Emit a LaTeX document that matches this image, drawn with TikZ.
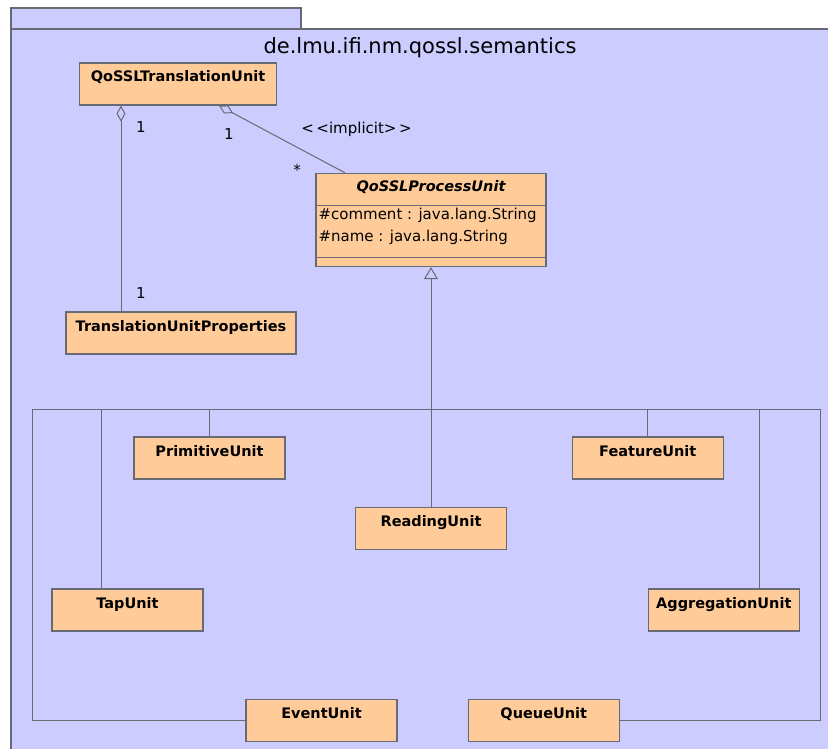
\documentclass[tikz,border=0pt]{standalone}
\usepackage{fontspec}
\setmainfont{DejaVu Sans}
\usetikzlibrary{positioning,arrows.meta}
\definecolor{pkgfill}{RGB}{204,204,255}
\definecolor{clsfill}{RGB}{255,204,153}
\definecolor{lngray}{RGB}{105,105,118}

\begin{document}
\begin{tikzpicture}[
  x=1pt, y=-1pt,
  font=\fontsize{15}{18}\selectfont,
  cls/.style={draw=lngray, line width=1.3pt, fill=clsfill, inner sep=0pt, minimum width=151pt,
    text height=19pt, text depth=23pt, font=\fontsize{14.5}{17}\selectfont\bfseries},
  pkg/.style={draw=lngray, line width=1.3pt, fill=pkgfill},
  aggr/.style={draw=lngray, line width=1pt, {Diamond[open,length=16pt,width=9pt]}-},
  gen/.style={draw=lngray, line width=1pt, {Triangle[open,length=12pt,width=14pt]}-},
  tree/.style={draw=lngray, line width=1pt},
  mult/.style={inner sep=0pt}
]
\clip (0,0) rectangle (828,749);
\fill[white] (0,0) rectangle (828,749);

% package
\draw[pkg] (11,8) rectangle (301,29);
\draw[pkg] (11,29) rectangle (840,760);
\node[mult] (pkgname) at (420,48) {\fontsize{21}{24}\selectfont de.lmu.ifi.nm.qossl.semantics};

% classes
\node[cls, minimum width=197pt] (trans) at (178,84) {QoSSLTranslationUnit};
\node[cls, minimum width=230pt] (props) at (181,333) {TranslationUnitProperties};
\node[cls, minimum width=230pt, text height=18pt, text depth=75pt,
  font=\fontsize{14.5}{17}\selectfont\bfseries\itshape] (proc) at (431,220) {QoSSLProcessUnit};
\draw[tree] ([yshift=-32.5pt]proc.north west) -- ([yshift=-32.5pt]proc.north east);
\draw[tree] ([yshift=9.5pt]proc.south west) -- ([yshift=9.5pt]proc.south east);
\node[anchor=north west, align=left, inner sep=0pt, font=\fontsize{15}{22}\selectfont] (attrs)
  at ([xshift=3pt,yshift=-35.5pt]proc.north west) {\#comment : java.lang.String\\\#name : java.lang.String};

\node[cls] (prim) at (209.5,458) {PrimitiveUnit};
\node[cls, right=286pt of prim] (feature) {FeatureUnit};
\node[cls, below=239.5pt of proc] (reading) {ReadingUnit};
\node[cls] (tap) at (127.5,610) {TapUnit};
\node[cls, right=444pt of tap] (aggrunit) {AggregationUnit};
\node[cls] (event) at (321.5,720.5) {EventUnit};
\node[cls, right=70pt of event] (queue) {QueueUnit};

% associations
\draw[aggr] ([xshift=-57pt]trans.south) -- ([xshift=-57pt]trans.south |- props.north);
\draw[aggr] ([xshift=41pt]trans.south) -- ([xshift=-86pt]proc.north);
\node[mult] (m1) at (141,127.5) {1};
\node[mult] (m2) at (141,293) {1};
\node[mult] (m3) at (229,134) {1};
\node[mult] (m4) at (297,170) {*};
\node[mult] (impl) at (356.5,129) {{<}\,{<}implicit{>}\,{>}};

% generalization
\coordinate (busL) at (32,409);
\coordinate (busR) at (820,409);
\draw[gen] (proc.south) -- (proc.south |- busL);
\draw[tree] (busL) -- (busR);
\draw[tree] (busL) |- (event.west);
\draw[tree] (busR) |- (queue.east);
\draw[tree] ([xshift=-26.5pt]tap.north) -- ([xshift=-26.5pt]tap.north |- busL);
\draw[tree] (prim.north) -- (prim.north |- busL);
\draw[tree] (reading.north) -- (reading.north |- busL);
\draw[tree] (feature.north) -- (feature.north |- busL);
\draw[tree] ([xshift=35.5pt]aggrunit.north) -- ([xshift=35.5pt]aggrunit.north |- busL);

\end{tikzpicture}
\end{document}
